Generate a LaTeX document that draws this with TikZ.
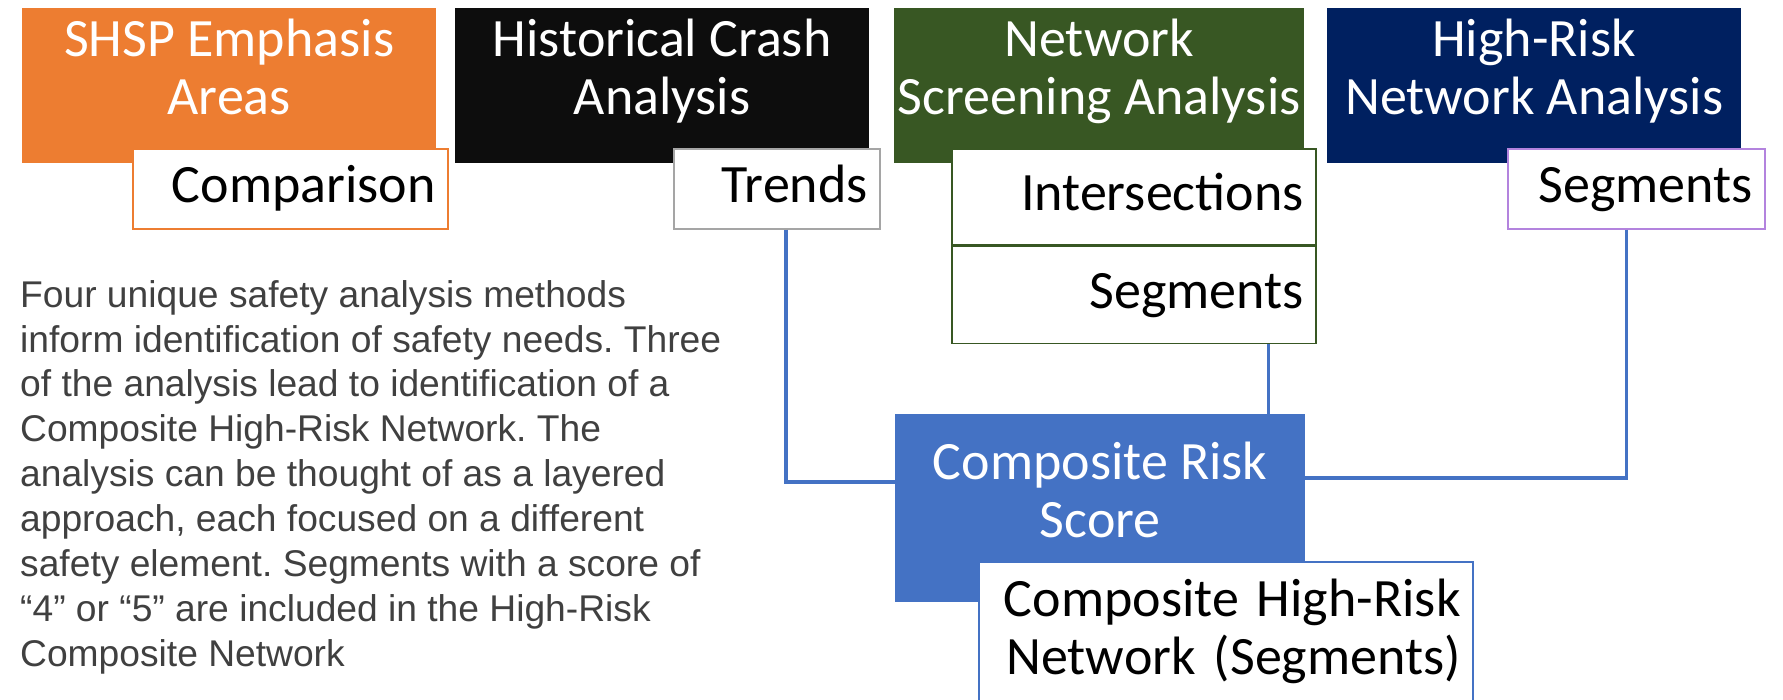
\documentclass[tikz,border=0pt]{standalone}
\usepackage{fontspec}
\setmainfont{Carlito}
\newfontfamily\bodyfont{Liberation Sans}
\usetikzlibrary{positioning,calc}
\frenchspacing

\definecolor{shsporange}{HTML}{ED7D31}
\definecolor{crashblack}{HTML}{0D0D0D}
\definecolor{screengreen}{HTML}{385723}
\definecolor{risknavy}{HTML}{002060}
\definecolor{compblue}{HTML}{4472C4}
\definecolor{trendgray}{HTML}{A5A5A5}
\definecolor{segpurple}{HTML}{B383DE}
\definecolor{bodygray}{HTML}{404040}

\newcommand{\boxfont}{\fontsize{54}{58}\selectfont}
\newcommand{\twolines}[2]{\rule{0pt}{40pt}#1\\#2\rule[-40pt]{0pt}{40pt}}

\begin{document}
\begin{tikzpicture}[x=1pt, y=-1pt,
    head/.style={anchor=north west, inner sep=0pt, text=white, align=center,
        minimum width=410pt, minimum height=155pt, font=\boxfont},
    subbox/.style={anchor=north west, draw, line width=1.5pt, fill=white,
        inner xsep=12pt, inner ysep=0pt, align=right, font=\boxfont},
    sub/.style={subbox, text height=38pt, text depth=10pt, minimum height=80pt},
    link/.style={compblue, line width=3.5pt}]
    \useasboundingbox (0,0) rectangle (1783,699);

    % four analysis methods
    \node[head, fill=shsporange, minimum width=414pt] (shsp) at (22,8) {\twolines{SHSP Emphasis}{Areas}};
    \node[sub, draw=shsporange, text width=291pt] (comp) at (132,148) {Comparison};

    \node[head, fill=crashblack, minimum width=414pt] (hist) at (455,8) {\twolines{Historical Crash}{Analysis}};
    \node[sub, draw=trendgray, text width=182pt] (trends) at (673,148) {Trends};

    \node[head, fill=screengreen] (screen) at (894,8) {\twolines{Network}{Screening Analysis}};
    \node[sub, draw=screengreen, text width=340pt, minimum height=96pt] (inter) at (951,148) {Intersections};
    \node[sub, draw=screengreen, text width=340pt, minimum height=97pt, below=0pt of inter] (segs) {Segments};

    \node[head, fill=risknavy, minimum width=414pt] (hrn) at (1327,8) {\twolines{High-Risk}{Network Analysis}};
    \node[sub, draw=segpurple, text width=233pt] (hrseg) at (1507,148) {Segments};

    % composite result
    \node[head, fill=compblue, minimum height=188pt] (crs) at (895,414) {\twolines{Composite Risk}{Score}};
    \node[subbox, draw=compblue, text width=470pt, minimum height=168pt] (chrn) at (978,561)
        {\twolines{Composite High-Risk}{Network (Segments)}};

    \draw[link] ([xshift=9pt]trends.south) |- ([yshift=26pt]crs.west);
    \draw[link] ([xshift=-10pt]hrseg.south) |- ([yshift=30pt]crs.east);
    \draw[link] ([xshift=-37pt]crs.north east) -- ([xshift=-37pt]crs.north east |- segs.south);

    \node[anchor=north west, inner sep=0pt, align=left, text=bodygray,
        font=\bodyfont\fontsize{37.2}{44.9}\selectfont] (about) at (20,280)
        {Four unique safety analysis methods\\
         inform identification of safety needs. Three\\
         of the analysis lead to identification of a\\
         Composite High-Risk Network. The\\
         analysis can be thought of as a layered\\
         approach, each focused on a different\\
         safety element. Segments with a score of\\
         “4” or “5” are included in the High-Risk\\
         Composite Network};
\end{tikzpicture}
\end{document}
